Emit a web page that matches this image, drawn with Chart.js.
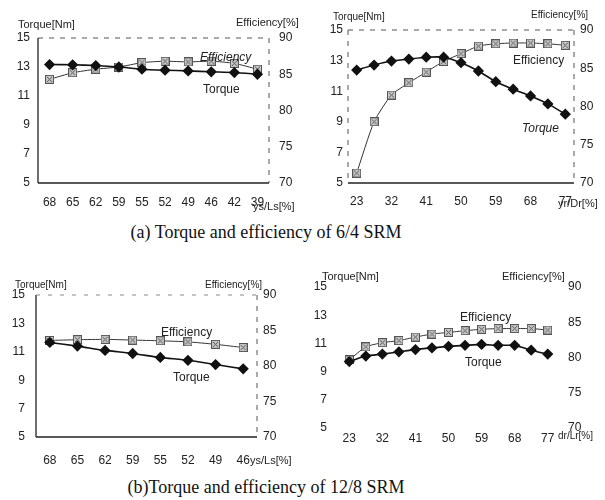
<!DOCTYPE html>
<html>
<head>
<meta charset="utf-8">
<script src="https://cdn.jsdelivr.net/npm/chart.js@4.4.0/dist/chart.umd.min.js"></script>
<style>
  body { margin: 0; background: #fff; }
  #page { position: relative; width: 605px; height: 500px; overflow: hidden; font-family: "Liberation Sans", Arial, sans-serif; color: #222; }
  canvas { position: absolute; }
  .t { position: absolute; white-space: nowrap; font-size: 11px; line-height: 12px; }
  .cap { position: absolute; width: 532px; text-align: center; font-family: "Liberation Serif", "Times New Roman", serif; font-size: 18px; color: #111; }
</style>
</head>
<body>
<div id="page">
  <canvas id="a1" width="300" height="215" style="left:0;top:0"></canvas>
  <canvas id="a2" width="305" height="215" style="left:300px;top:0"></canvas>
  <canvas id="b1" width="300" height="215" style="left:0;top:260px"></canvas>
  <canvas id="b2" width="305" height="215" style="left:300px;top:260px"></canvas>
  <div class="cap" style="left:0;top:222px">(a) Torque and efficiency of 6/4 SRM</div>
  <div class="cap" style="left:0;top:477px">(b)Torque and efficiency of 12/8 SRM</div>
</div>
<script>
'use strict';

// (a) 6/4 SRM, left: ys/Ls
let catsA1 = ['68', '65', '62', '59', '55', '52', '49', '46', '42', '39'];
let torqueA1 = [13.17, 13.15, 13.1, 13.0, 12.85, 12.78, 12.73, 12.67, 12.62, 12.5];
let effA1 = [84.3, 85.2, 85.7, 86.0, 86.6, 86.8, 86.7, 86.8, 86.5, 85.7];

// (a) 6/4 SRM, right: yr/Dr
let catsA2 = ['23', '27.5', '32', '36.5', '41', '45.5', '50', '54.5', '59', '63.5', '68', '72.5', '77'];
let torqueA2 = [12.38, 12.71, 12.97, 13.1, 13.22, 13.22, 12.86, 12.32, 11.62, 11.13, 10.69, 10.17, 9.5];
let effA2 = [71.3, 78.0, 81.5, 83.1, 84.5, 85.9, 86.9, 87.9, 88.2, 88.3, 88.3, 88.2, 88.0];

// (b) 12/8 SRM, left: ys/Ls
let catsB1 = ['68', '65', '62', '59', '55', '52', '49', '46'];
let torqueB1 = [11.66, 11.4, 11.1, 10.88, 10.6, 10.4, 10.1, 9.8];
let effB1 = [83.6, 83.7, 83.75, 83.65, 83.55, 83.4, 83.05, 82.6];

// (b) 12/8 SRM, right: dr/Lr
let catsB2 = ['23', '27.5', '32', '36.5', '41', '45.5', '50', '54.5', '59', '63.5', '68', '72.5', '77'];
let torqueB2 = [9.71, 10.1, 10.24, 10.4, 10.56, 10.68, 10.79, 10.86, 10.93, 10.86, 10.86, 10.52, 10.24];
let effB2 = [79.66, 81.5, 82.1, 82.4, 82.9, 83.33, 83.56, 83.8, 84.0, 84.1, 84.1, 84.1, 83.9];

let torqueTicks = [5, 7, 9, 11, 13, 15];
let effTicks = [70, 75, 80, 85, 90];

// grey square with an x for the efficiency points
function effMarker() {
    let c = document.createElement('canvas');
    c.width = 9; c.height = 9;
    let g = c.getContext('2d');
    g.fillStyle = '#c8c8c8';
    g.fillRect(0.5, 0.5, 8, 8);
    g.strokeStyle = '#555';
    g.lineWidth = 1;
    g.strokeRect(0.5, 0.5, 8, 8);
    g.beginPath();
    g.moveTo(2, 2); g.lineTo(7, 7);
    g.moveTo(7, 2); g.lineTo(2, 7);
    g.stroke();
    return c;
}
let marker = effMarker();

// draws the box round the plot, each side solid, dashed or off
let framePlugin = {
    id: 'frame',
    afterDraw(chart, args, opts) {
        let a = chart.chartArea;
        let ctx = chart.ctx;
        let sides = {
            left: [a.left, a.top, a.left, a.bottom],
            bottom: [a.left, a.bottom, a.right, a.bottom],
            top: [a.left, a.top, a.right, a.top],
            right: [a.right, a.top, a.right, a.bottom]
        };
        ctx.save();
        for (let k in sides) {
            let s = opts[k];
            if (!s) continue;
            ctx.strokeStyle = s.color || '#222';
            ctx.lineWidth = s.width || 1.2;
            ctx.setLineDash(s.dash || []);
            ctx.beginPath();
            ctx.moveTo(sides[k][0], sides[k][1]);
            ctx.lineTo(sides[k][2], sides[k][3]);
            ctx.stroke();
        }
        ctx.restore();
    }
};

function makeChart(id, cats, torque, eff, lay) {
    let ctx = document.getElementById(id).getContext('2d');
    return new Chart(ctx, {
        type: 'line',
        data: {
            labels: cats,
            datasets: [{
                label: 'Torque',
                data: torque,
                yAxisID: 'y',
                borderColor: '#111',
                backgroundColor: '#111',
                borderWidth: 1.6,
                pointStyle: 'rectRot',
                pointRadius: 4.5,
                tension: 0.2
            }, {
                label: 'Efficiency',
                data: eff,
                yAxisID: 'y2',
                borderColor: '#333',
                backgroundColor: '#c8c8c8',
                borderWidth: 1,
                pointStyle: marker,
                tension: 0.2
            }]
        },
        options: {
            responsive: false,
            animation: false,
            layout: { padding: { top: lay.top, left: 0, right: 0, bottom: 0 } },
            plugins: {
                legend: { display: false },
                tooltip: { enabled: false },
                frame: lay.frame
            },
            scales: {
                x: {
                    offset: true,
                    grid: { display: false, drawTicks: false },
                    border: { display: false },
                    afterFit: s => { s.height = lay.xh; },
                    ticks: {
                        padding: lay.xpad,
                        autoSkip: false,
                        maxRotation: 0,
                        color: '#222',
                        font: { family: 'Liberation Sans', size: 12 },
                        callback: function (v, i) { return i % lay.every === 0 ? this.getLabelForValue(v) : ''; }
                    }
                },
                y: {
                    position: 'left',
                    min: 5, max: 15,
                    afterBuildTicks: s => { s.ticks = torqueTicks.map(v => ({ value: v })); },
                    grid: { display: false, drawTicks: false },
                    border: { display: false },
                    afterFit: s => { s.width = lay.lw; },
                    ticks: { padding: lay.lpad, color: '#222', font: { family: 'Liberation Sans', size: 12 } }
                },
                y2: {
                    position: 'right',
                    min: 70, max: 90,
                    afterBuildTicks: s => { s.ticks = effTicks.map(v => ({ value: v })); },
                    grid: { display: false, drawTicks: false },
                    border: { display: false },
                    afterFit: s => { s.width = lay.rw; },
                    ticks: { padding: lay.rpad, color: '#222', font: { family: 'Liberation Sans', size: 12 } }
                }
            }
        },
        plugins: [framePlugin]
    });
}

let solid = { width: 1.3 };
let dashed = { width: 1, dash: [5, 6], color: '#555' };

makeChart('a1', catsA1, torqueA1, effA1, {
    top: 38, xh: 32, lw: 38, rw: 31, xpad: 12, lpad: 8, rpad: 10, every: 1,
    frame: { left: solid, bottom: solid, top: dashed, right: dashed }
});
makeChart('a2', catsA2, torqueA2, effA2, {
    top: 30, xh: 32, lw: 48, rw: 31, xpad: 11, lpad: 5, rpad: 6, every: 2,
    frame: { left: dashed, bottom: solid, top: dashed, right: dashed }
});
makeChart('b1', catsB1, torqueB1, effB1, {
    top: 35, xh: 38, lw: 36, rw: 43, xpad: 16, lpad: 11, rpad: 6, every: 1,
    frame: { left: solid, bottom: solid, top: { width: 1, dash: [4, 8], color: '#888' }, right: dashed }
});
makeChart('b2', catsB2, torqueB2, effB2, {
    top: 27, xh: 47, lw: 41, rw: 49, xpad: 3, lpad: 14, rpad: 12, every: 2,
    frame: {}
});

// axis titles and in-plot labels
let page = document.getElementById('page');
function addText(txt, x, y, extra) {
    let d = document.createElement('div');
    d.className = 't';
    d.textContent = txt;
    d.style.left = x + 'px';
    d.style.top = y + 'px';
    if (extra) Object.assign(d.style, extra);
    page.appendChild(d);
}
let it = { fontStyle: 'italic' };
let big = { fontSize: '12px' };

addText('Torque[Nm]', 18, 18);
addText('Efficiency[%]', 236, 16);
addText('ys/Ls[%]', 253, 200);
addText('Efficiency', 200, 51, { fontStyle: 'italic', fontSize: '12px' });
addText('Torque', 203, 83, big);

addText('Torque[Nm]', 333, 11, { fontSize: '10px' });
addText('Efficiency[%]', 531, 9, { fontSize: '10px' });
addText('yr/Dr[%]', 558, 197);
addText('Efficiency', 513, 54, big);
addText('Torque', 522, 122, { fontStyle: 'italic', fontSize: '12px' });

addText('Torque[Nm]', 15, 279, { fontSize: '10px' });
addText('Efficiency[%]', 205, 279, { fontSize: '10px' });
addText('ys/Ls[%]', 250, 454);
addText('Efficiency', 161, 326, big);
addText('Torque', 173, 371, big);

addText('Torque[Nm]', 322, 270);
addText('Efficiency[%]', 502, 270);
addText('dr/Lr[%]', 558, 430, { fontSize: '10px' });
addText('Efficiency', 460, 311, big);
addText('Torque', 465, 356, big);
</script>
</body>
</html>
